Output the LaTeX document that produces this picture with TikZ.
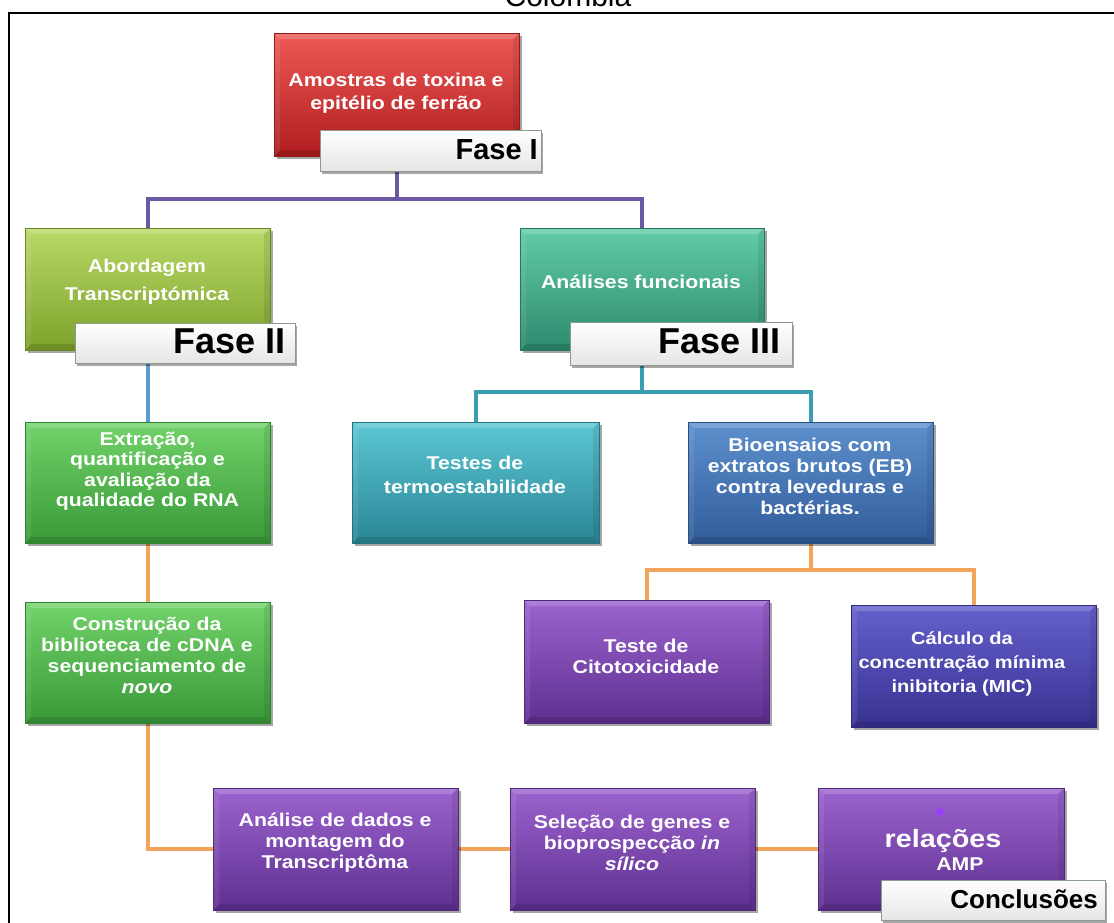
\documentclass[tikz,border=0pt]{standalone}
\usepackage{fontspec}
\setmainfont{Liberation Sans}
\newfontfamily\wfont[FakeStretch=1.15]{Liberation Sans}
\usetikzlibrary{shadows}
\pgfdeclarelayer{bg}
\pgfsetlayers{bg,main}
\definecolor{redT}{HTML}{EE5A55}\definecolor{redM}{HTML}{D8282B}\definecolor{redB}{HTML}{AE1C1E}
\definecolor{ylT}{HTML}{B9D867}\definecolor{ylM}{HTML}{9CC43C}\definecolor{ylB}{HTML}{7DA22B}
\definecolor{tgT}{HTML}{62CCA8}\definecolor{tgM}{HTML}{40AE8C}\definecolor{tgB}{HTML}{2D8A6E}
\definecolor{grT}{HTML}{72D26A}\definecolor{grM}{HTML}{4DB84A}\definecolor{grB}{HTML}{389A38}
\definecolor{cyT}{HTML}{5CC6D2}\definecolor{cyM}{HTML}{3AA3B5}\definecolor{cyB}{HTML}{2A8696}
\definecolor{blT}{HTML}{5E90CE}\definecolor{blM}{HTML}{4474B5}\definecolor{blB}{HTML}{315C9A}
\definecolor{puT}{HTML}{9C63CE}\definecolor{puM}{HTML}{7D44B0}\definecolor{puB}{HTML}{5E3090}
\definecolor{inT}{HTML}{6560CC}\definecolor{inM}{HTML}{4C47B0}\definecolor{inB}{HTML}{383292}
\definecolor{lnPu}{HTML}{6B58A2}\definecolor{lnBl}{HTML}{5A9BD0}
\definecolor{lnTe}{HTML}{3C9CB2}\definecolor{lnOr}{HTML}{F2A45A}
\definecolor{faseB}{HTML}{8C9C8C}
\definecolor{dotC}{HTML}{9B3DFF}
\tikzset{
  box/.style n args={3}{rectangle, inner sep=0pt, minimum width=245pt, minimum height=122pt,
    top color=#1, middle color=#2, bottom color=#3, draw=#3!85!black, line width=0.6pt,
    drop shadow={shadow xshift=2.5pt, shadow yshift=-3pt, opacity=0.35, fill=black},
    path picture={
      \fill[white, opacity=0.18] (path picture bounding box.north west) -- (path picture bounding box.north east)
        -- ([xshift=-6pt,yshift=-6pt]path picture bounding box.north east) -- ([xshift=6pt,yshift=-6pt]path picture bounding box.north west) -- cycle;
      \fill[black, opacity=0.12] (path picture bounding box.south west) -- (path picture bounding box.south east)
        -- ([xshift=-6pt,yshift=6pt]path picture bounding box.south east) -- ([xshift=6pt,yshift=6pt]path picture bounding box.south west) -- cycle;
      \fill[black, opacity=0.08] (path picture bounding box.north east) -- (path picture bounding box.south east)
        -- ([xshift=-6pt,yshift=6pt]path picture bounding box.south east) -- ([xshift=-6pt,yshift=-6pt]path picture bounding box.north east) -- cycle;
      \fill[white, opacity=0.08] (path picture bounding box.north west) -- (path picture bounding box.south west)
        -- ([xshift=6pt,yshift=6pt]path picture bounding box.south west) -- ([xshift=6pt,yshift=-6pt]path picture bounding box.north west) -- cycle;
    }},
  fase/.style={rectangle, inner sep=0pt, top color=white, bottom color=black!10,
    draw=faseB, line width=0.9pt,
    drop shadow={shadow xshift=2pt, shadow yshift=-2.5pt, opacity=0.35, fill=black}},
  txt/.style={text=white, font=\wfont\bfseries\fontsize{18.5}{21}\selectfont, align=center, inner sep=0pt},
  fasetxt/.style={text=black, font=\bfseries\fontsize{#1}{#1}\selectfont, inner sep=0pt, anchor=base east},
  conn/.style={line width=4pt, draw=#1},
}
\begin{document}
\begin{tikzpicture}[x=1pt,y=-1pt]
\useasboundingbox (0,0) rectangle (1114,922);
\node[font=\fontsize{30}{34}\selectfont, anchor=base, inner sep=0pt] (title) at (568,6) {Colombia};
\draw[line width=2.6pt] (9,930) -- (9,13) -- (1120,13);

% boxes
\node[box={redT}{redM}{redB}, minimum height=123pt] (red) at (396.5,94.5) {};
\node[fase, minimum width=221pt, minimum height=41pt] (f1) at (430.5,150.5) {};
\node[box={ylT}{ylM}{ylB}] (abord) at (147.5,289) {};
\node[fase, minimum width=220pt, minimum height=40pt] (f2) at (185,343) {};
\node[box={tgT}{tgM}{tgB}, minimum width=244pt] (anal) at (642,289) {};
\node[fase, minimum width=222pt, minimum height=43pt] (f3) at (681,343.5) {};
\node[box={grT}{grM}{grB}, minimum height=121pt] (extr) at (147.5,482.5) {};
\node[box={cyT}{cyM}{cyB}, minimum width=247pt, minimum height=121pt] (test) at (475.5,482.5) {};
\node[box={blT}{blM}{blB}, minimum height=121pt] (bio) at (810.5,482.5) {};
\node[box={grT}{grM}{grB}, minimum height=121pt] (constr) at (147.5,662.5) {};
\node[box={puT}{puM}{puB}, minimum height=123pt] (cito) at (646.5,661.5) {};
\node[box={inT}{inM}{inB}] (calc) at (973.5,666) {};
\node[box={puT}{puM}{puB}] (dados) at (335.5,849) {};
\node[box={puT}{puM}{puB}] (selec) at (632.5,849) {};
\node[box={puT}{puM}{puB}, minimum width=246pt] (rel) at (941,849) {};
\node[fase, minimum width=224pt, minimum height=40pt] (f4) at (993,900) {};

% connectors
\begin{pgfonlayer}{bg}
\draw[conn=lnPu] (f1.south -| red.south) -- ++(0,28) coordinate (j1) -| (abord.north);
\draw[conn=lnPu] (j1) -| (anal.north);
\draw[conn=lnBl] (f2.south -| abord.south) -- (extr.north);
\draw[conn=lnOr] (extr.south) -- (constr.north);
\draw[conn=lnOr] (constr.south) |- (dados.west);
\draw[conn=lnOr] (dados.east) -- (selec.west);
\draw[conn=lnOr] (selec.east) -- (rel.west);
\draw[conn=lnTe] (f3.south -| anal.south) -- ++(0,27) coordinate (j2) -| (test.north);
\draw[conn=lnTe] (j2) -| (bio.north);
\draw[conn=lnOr] (bio.south) -- ++(0,27) coordinate (j3) -| (cito.north);
\draw[conn=lnOr] (j3) -| (calc.north);
\end{pgfonlayer}

% texts
\node[txt, font=\wfont\bfseries\fontsize{18.5}{23}\selectfont] (tRed) at (396,93.5) {Amostras  de toxina e\\epitélio  de ferrão};
\node[fasetxt=29] (tF1) at (538,159) {Fase I};
\node[txt, font=\wfont\bfseries\fontsize{18.5}{28}\selectfont] (tAbord) at (147,282) {Abordagem\\Transcriptómica};
\node[fasetxt=36] (tF2) at (286,353) {Fase II};
\node[txt] (tAnal) at (641,282) {Análises  funcionais};
\node[fasetxt=36] (tF3) at (781,353) {Fase III};
\node[txt, font=\wfont\bfseries\fontsize{18.5}{20.5}\selectfont] (tExtr) at (147.5,471) {Extração,\\quantificação e\\avaliação  da\\qualidade  do RNA};
\node[txt, font=\wfont\bfseries\fontsize{18.5}{24}\selectfont] (tTest) at (475,475) {Testes de\\termoestabilidade};
\node[txt] (tBio) at (810,476) {Bioensaios  com\\extratos brutos (EB)\\contra leveduras e\\bactérias.};
\node[txt] (tConstr) at (147,655) {Construção da\\biblioteca de cDNA e\\sequenciamento  de\\\textit{novo}};
\node[txt] (tCito) at (646,656) {Teste de\\Citotoxicidade};
\node[txt, font=\wfont\bfseries\fontsize{17.5}{24}\selectfont] (tCalc) at (962,664) {Cálculo da\\concentração mínima\\inibitoria (MIC)};
\node[txt] (tDados) at (335,843) {Análise  de dados e\\montagem do\\Transcriptôma};
\node[txt] (tSelec) at (632,843) {Seleção de genes e\\bioprospecção \textit{in}\\\textit{sílico}};
\node[txt, font=\wfont\bfseries\fontsize{25}{25}\selectfont, anchor=base] (tRel) at (943,847) {relações};
\node[txt, anchor=base] (tAmp) at (960,870) {AMP};
\fill[dotC] (940,812) circle (4pt);
\node[fasetxt=26] (tF4) at (1098,908) {Conclusões};
\end{tikzpicture}
\end{document}
